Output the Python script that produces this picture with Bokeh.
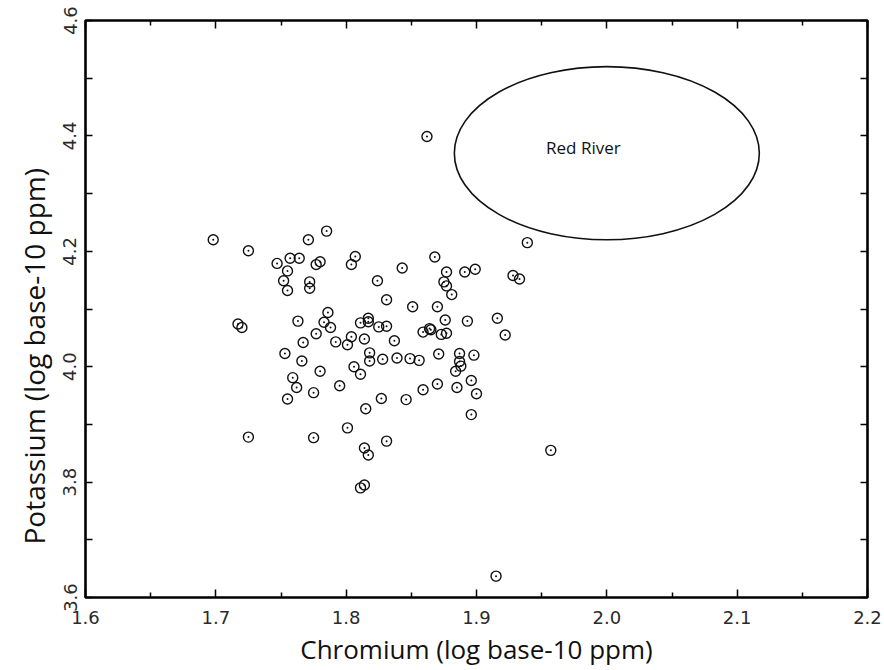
from bokeh.plotting import figure
from bokeh.models import FixedTicker, LinearAxis, Range1d, ColumnDataSource, CustomLabelingPolicy
from bokeh.core.properties import value
from bokeh.embed import file_html
from bokeh.resources import INLINE

chromium = [1.698, 1.725, 1.785, 1.771, 1.747, 1.757, 1.764, 1.755, 1.752, 1.755,
            1.777, 1.780, 1.772, 1.772, 1.804, 1.807, 1.824, 1.831, 1.717, 1.720,
            1.763, 1.786, 1.783, 1.788, 1.811, 1.817, 1.817, 1.825, 1.831, 1.939,
            1.868, 1.843, 1.877, 1.891, 1.899, 1.875, 1.877, 1.881, 1.928, 1.933,
            1.851, 1.870, 1.876, 1.893, 1.916, 1.859, 1.864, 1.865, 1.873, 1.877,
            1.922, 1.777, 1.767, 1.753, 1.792, 1.801, 1.804, 1.814, 1.818, 1.818,
            1.828, 1.766, 1.780, 1.806, 1.811, 1.759, 1.762, 1.795, 1.775, 1.755,
            1.827, 1.815, 1.801, 1.725, 1.775, 1.831, 1.814, 1.817, 1.811, 1.814,
            1.915, 1.837, 1.839, 1.849, 1.856, 1.871, 1.887, 1.898, 1.887, 1.888,
            1.884, 1.870, 1.859, 1.885, 1.896, 1.900, 1.846, 1.896, 1.957, 1.862]
potassium = [4.220, 4.201, 4.235, 4.220, 4.179, 4.188, 4.188, 4.166, 4.149, 4.132,
             4.177, 4.182, 4.147, 4.136, 4.177, 4.191, 4.149, 4.116, 4.074, 4.068,
             4.079, 4.094, 4.077, 4.068, 4.076, 4.084, 4.078, 4.069, 4.070, 4.215,
             4.190, 4.171, 4.164, 4.164, 4.169, 4.147, 4.140, 4.125, 4.158, 4.152,
             4.104, 4.104, 4.081, 4.079, 4.084, 4.060, 4.066, 4.064, 4.056, 4.058,
             4.055, 4.057, 4.042, 4.023, 4.043, 4.038, 4.052, 4.048, 4.024, 4.010,
             4.013, 4.010, 3.992, 4.000, 3.987, 3.981, 3.964, 3.967, 3.955, 3.944,
             3.945, 3.927, 3.894, 3.878, 3.877, 3.871, 3.859, 3.847, 3.790, 3.795,
             3.637, 4.045, 4.015, 4.014, 4.011, 4.022, 4.023, 4.020, 4.009, 4.001,
             3.992, 3.970, 3.960, 3.964, 3.976, 3.953, 3.943, 3.917, 3.855, 4.399]

region_name = "Red River"
region_x = 2.0
region_y = 4.37
region_w = 0.234
region_h = 0.30
label_x = 1.982
label_y = 4.38

x_ticks = [1.6, 1.7, 1.8, 1.9, 2.0, 2.1, 2.2]
x_tick_labels = ["1.6", "1.7", "1.8", "1.9", "2.0", "2.1", "2.2"]
x_minor = [1.65, 1.75, 1.85, 1.95, 2.05, 2.15]
y_ticks = [3.6, 3.8, 4.0, 4.2, 4.4, 4.6]
y_tick_labels = ["3.6", "3.8", "4.0", "4.2", "4.4", "4.6"]
y_minor = [3.7, 3.9, 4.1, 4.3, 4.5]

x_title = "Chromium (log base-10 ppm)"
y_title = "Potassium (log base-10 ppm)"

p = figure(width=884, height=670, output_backend="svg", toolbar_location=None,
           x_range=Range1d(1.6, 2.2), y_range=Range1d(3.6, 4.6),
           x_axis_location=None, y_axis_location=None,
           min_border_left=85, min_border_right=17, min_border_top=20, min_border_bottom=73)
p.grid.visible = False
p.background_fill_color = "white"
p.border_fill_color = "white"
p.outline_line_color = "black"
p.outline_line_width = 2.6

tick_font = "DejaVu Sans"
title_font = "Open Sans"
hide_all = CustomLabelingPolicy(code="""
for (const i of Array.from(indices)) { indices.unset(i) }
return indices
""")

def style_axis(ax, labels, tin, mtin):
    ax.major_tick_in = tin
    ax.major_tick_out = 0
    ax.minor_tick_in = mtin
    ax.minor_tick_out = 0
    ax.major_tick_line_width = 1.5
    ax.minor_tick_line_width = 1.5
    ax.axis_line_color = None
    ax.major_label_text_font = tick_font
    ax.major_label_text_font_size = "18px"
    ax.major_label_text_color = "#2a2a2a"
    if not labels:
        ax.major_label_policy = hide_all
        ax.major_label_standoff = 0

def make_x_axis(labels):
    ax = LinearAxis(ticker=FixedTicker(ticks=x_ticks, minor_ticks=x_minor))
    ax.major_label_overrides = {t: l for t, l in zip(x_ticks, x_tick_labels)}
    ax.major_label_standoff = 13
    style_axis(ax, labels, 8, 5)
    return ax

def make_y_axis(labels):
    ax = LinearAxis(ticker=FixedTicker(ticks=y_ticks, minor_ticks=y_minor))
    ax.major_label_overrides = {t: l for t, l in zip(y_ticks, y_tick_labels)}
    ax.major_label_orientation = "vertical"
    ax.major_label_standoff = 9
    style_axis(ax, labels, 7, 7)
    return ax

xb = make_x_axis(True)
xb.axis_label = x_title
xb.axis_label_text_font = title_font
xb.axis_label_text_font_size = "26px"
xb.axis_label_text_font_style = "normal"
xb.axis_label_text_color = "#111111"
xb.axis_label_standoff = 4
p.add_layout(xb, "below")
p.add_layout(make_x_axis(False), "above")

yl = make_y_axis(True)
# trailing no-break spaces push the centred title down, as in the reference
yl.axis_label = y_title + "\u00a0" * 13
yl.axis_label_text_font = title_font
yl.axis_label_text_font_size = "28px"
yl.axis_label_text_font_style = "normal"
yl.axis_label_text_color = "#111111"
yl.axis_label_standoff = 8
p.add_layout(yl, "left")
p.add_layout(make_y_axis(False), "right")

src = ColumnDataSource(dict(x=chromium, y=potassium))
p.scatter("x", "y", source=src, marker="circle", size=10, fill_color=None,
          line_color="#111111", line_width=1.4)
p.scatter("x", "y", source=src, marker="circle", size=2, fill_color="#111111",
          line_color=None)

p.ellipse(x=[region_x], y=[region_y], width=[region_w], height=[region_h],
          fill_color=None, line_color="#111111", line_width=1.6)
p.text(x=[label_x], y=[label_y], text=[region_name], text_font=value(title_font),
       text_font_size="17px", text_align="center", text_baseline="middle",
       text_color="#111111")

open("out.html", "w").write(file_html(p, INLINE))
